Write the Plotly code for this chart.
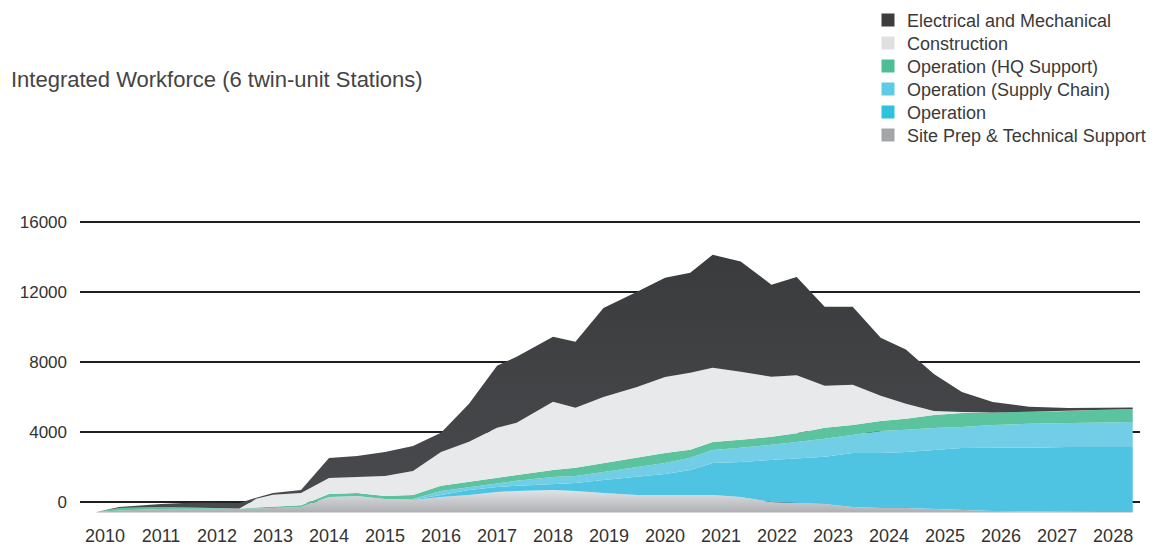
import plotly.graph_objects as go

# Time axis (fractional years) for the stacked workforce profile
years = [2009.85, 2010.25, 2011.0, 2011.5, 2012.0, 2012.4, 2012.7, 2013.0, 2013.5,
         2014.0, 2014.5, 2015.0, 2015.5, 2016.0, 2016.5, 2017.0, 2017.35, 2018.0,
         2018.4, 2018.9, 2019.5, 2020.0, 2020.45, 2020.85, 2021.35, 2021.9, 2022.35,
         2022.85, 2023.35, 2023.85, 2024.3, 2024.8, 2025.3, 2025.85, 2026.5, 2027.2,
         2027.8, 2028.35]

# Layer values (workers), listed bottom to top of the stack
site_prep = [30, 110, 200, 200, 200, 200, 230, 260, 310,
             890, 940, 770, 710, 890, 1000, 1170, 1230, 1290,
             1230, 1110, 1000, 1000, 1000, 1000, 890, 600, 540,
             490, 310, 260, 260, 200, 140, 90, 60, 30,
             30, 30]
operation = [0, 0, 0, 0, 0, 0, 0, 0, 0,
             0, 0, 0, 30, 110, 290, 290, 290, 340,
             460, 740, 1030, 1200, 1430, 1830, 2000, 2400, 2570,
             2690, 3090, 3140, 3200, 3370, 3540, 3600, 3630, 3710,
             3710, 3710]
supply_chain = [0, 0, 0, 0, 0, 0, 0, 0, 0,
                0, 0, 0, 30, 230, 170, 230, 290, 400,
                400, 460, 570, 630, 690, 740, 800, 860, 910,
                1030, 1030, 1260, 1260, 1260, 1200, 1310, 1370, 1370,
                1400, 1430]
hq_support = [0, 140, 110, 90, 60, 30, 60, 90, 110,
              170, 170, 170, 230, 290, 290, 290, 340, 400,
              460, 510, 510, 570, 460, 460, 460, 460, 510,
              630, 570, 570, 630, 740, 800, 710, 690, 690,
              720, 740]
construction = [0, 0, 0, 0, 0, 0, 490, 660, 690,
                910, 910, 1140, 1370, 1940, 2290, 2860, 2970, 3890,
                3430, 3770, 4060, 4340, 4400, 4230, 3890, 3430, 3310,
                2400, 2290, 1430, 860, 230, 60, 0, 0, 0,
                0, 0]
elec_mech = [0, 60, 170, 260, 290, 310, 60, 110, 170,
             1140, 1200, 1370, 1430, 1090, 2170, 3540, 3770, 3710,
             3770, 5090, 5430, 5660, 5710, 6460, 6290, 5260, 5600,
             4510, 4460, 3310, 3090, 2110, 1140, 600, 290, 170,
             120, 80]

# Floor of the drawn stack sits below the zero gridline
stack_floor = -600

series_names = ["Site Prep & Technical Support", "Operation", "Operation (Supply Chain)",
                "Operation (HQ Support)", "Construction", "Electrical and Mechanical"]
series_values = [site_prep, operation, supply_chain, hq_support, construction, elec_mech]
fill_colors = ["#cfd0d4", "#4ec4e2", "#72cde6", "#5cc39f", "#e8e9eb", "#47484b"]
key_colors = ["#a4a5a8", "#2ec3dd", "#5ecbe6", "#4dbd94", "#e0e0e0", "#3d3d3f"]

x_ticks = list(range(2010, 2029))
y_ticks = [0, 4000, 8000, 12000, 16000]

# figure geometry (pixels) used to place the key beside the plot
W, H = 1157, 546
M_L, M_R, M_T, M_B = 80, 17, 220, 30
PLOT_W = W - M_L - M_R
PLOT_H = H - M_T - M_B


def px_to_paper_x(px):
    return (px - M_L) / PLOT_W


def px_to_paper_y(py):
    return (H - M_B - py) / PLOT_H


fig = go.Figure()

# invisible floor of the stack
fig.add_trace(go.Scatter(
    x=years, y=[stack_floor] * len(years), stackgroup="wf", fill="none",
    mode="lines", line=dict(width=0, color="rgba(0,0,0,0)"),
    showlegend=False, hoverinfo="skip"))

for name, vals, col in zip(series_names, series_values, fill_colors):
    trace = dict(
        x=years, y=vals, name=name, stackgroup="wf", fill="tonexty",
        mode="lines", line=dict(width=0, color=col, shape="linear"),
        fillcolor=col, showlegend=False)
    if name == "Site Prep & Technical Support":
        trace["fillgradient"] = dict(
            type="vertical",
            colorscale=[[0, "#aeafb3"], [1, "#e2e3e6"]])
    elif name == "Electrical and Mechanical":
        trace["fillgradient"] = dict(
            type="vertical",
            colorscale=[[0, "#4a4b4e"], [1, "#3a3b3d"]])
    fig.add_trace(go.Scatter(**trace))

# key: square swatch + label per series, top entry first
shapes = []
annotations = []
key_top, key_step, sq = 20, 23, 13
for i, (name, col) in enumerate(zip(series_names[::-1], key_colors[::-1])):
    cy = key_top + key_step * i
    shapes.append(dict(
        type="rect", xref="paper", yref="paper",
        x0=px_to_paper_x(888 - sq / 2), x1=px_to_paper_x(888 + sq / 2),
        y0=px_to_paper_y(cy + sq / 2), y1=px_to_paper_y(cy - sq / 2),
        fillcolor=col, line=dict(width=0)))
    annotations.append(dict(
        text=name, xref="paper", yref="paper",
        x=px_to_paper_x(905), y=px_to_paper_y(cy + 1),
        xanchor="left", yanchor="middle", showarrow=False,
        font=dict(size=18, color="#3a3a3a")))

annotations.append(dict(
    text="Integrated Workforce (6 twin-unit Stations)",
    xref="paper", yref="paper", x=px_to_paper_x(9), y=px_to_paper_y(80),
    xanchor="left", yanchor="middle", showarrow=False,
    font=dict(size=22, color="#444444")))

fig.update_layout(
    width=W, height=H,
    margin=dict(l=M_L, r=M_R, t=M_T, b=M_B, autoexpand=False),
    paper_bgcolor="white", plot_bgcolor="white",
    font=dict(family="Liberation Sans, Arial, sans-serif", color="#333333"),
    showlegend=False,
    shapes=shapes,
    annotations=annotations,
)

fig.update_xaxes(
    range=[2009.554, 2028.48], tickvals=x_ticks, ticktext=[str(t) for t in x_ticks],
    showgrid=False, zeroline=False, showline=False, automargin=False,
    tickfont=dict(size=18, color="#333333"), ticks="", ticklabelstandoff=7)

fig.update_yaxes(
    range=[-800, 16100], tickvals=y_ticks, ticktext=[str(t) for t in y_ticks],
    showgrid=True, gridcolor="#1e1e1e", gridwidth=2, zeroline=False, showline=False,
    automargin=False,
    tickfont=dict(size=17, color="#333333"), ticks="", ticklabelstandoff=12)

fig.write_html("out.html")
